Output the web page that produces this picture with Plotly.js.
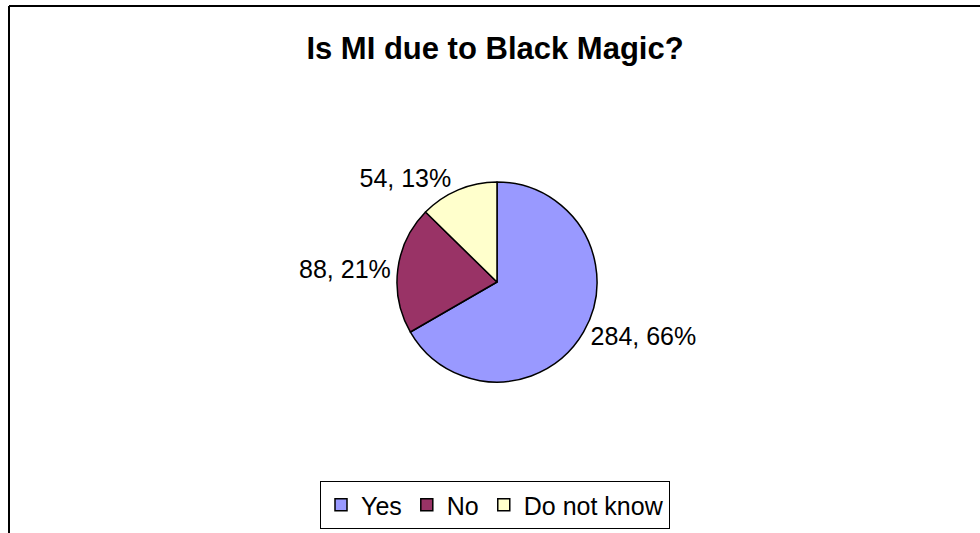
<!DOCTYPE html>
<html>
<head>
<meta charset="utf-8">
<script src="https://cdn.plot.ly/plotly-3.0.1.min.js"></script>
<style>html,body{margin:0;padding:0;background:#fff;}#chart{width:980px;height:533px;}</style>
</head>
<body>
<div id="chart"></div>
<script>
const categories = ["Yes", "No", "Do not know"];
const counts = [284, 88, 54];
const percents = ["66%", "21%", "13%"];
const colors = ["#9999FF", "#993366", "#FFFFCC"];
const titleText = "Is MI due to Black Magic?";

const W = 980, H = 533;
const labels = counts.map((c, i) => c + ", " + percents[i]);

const trace = {
  type: "pie",
  labels: categories,
  values: counts,
  text: labels,
  textinfo: "text",
  texttemplate: "%{text}",
  textposition: "outside",
  sort: false,
  direction: "clockwise",
  rotation: 0,
  automargin: false,
  hoverinfo: "none",
  marker: { colors: colors, line: { color: "#000000", width: 1.5 } },
  outsidetextfont: { family: "Liberation Sans, Arial, sans-serif", size: 25, color: "#000000" },
  domain: { x: [397 / W, 597 / W], y: [(H - 382) / H, (H - 182) / H] }
};

const layout = {
  width: W, height: H,
  margin: { l: 0, r: 0, t: 0, b: 0 },
  paper_bgcolor: "#ffffff",
  plot_bgcolor: "#ffffff",
  font: { family: "Liberation Sans, Arial, sans-serif", color: "#000000" },
  title: {
    text: "<b>" + titleText + "</b>",
    x: 495 / W, xanchor: "center",
    y: 1 - 48 / H, yanchor: "middle",
    font: { family: "Liberation Sans, Arial, sans-serif", size: 31, color: "#000000" }
  },
  showlegend: true,
  legend: {
    orientation: "h",
    x: 495 / W, xanchor: "center",
    y: 1 - 481 / H, yanchor: "top",
    bordercolor: "#000000", borderwidth: 1,
    bgcolor: "#ffffff",
    font: { family: "Liberation Sans, Arial, sans-serif", size: 25, color: "#000000" },
    traceorder: "normal"
  },
  shapes: [
    { type: "line", xref: "paper", yref: "paper", x0: 9 / W, x1: 1.01, y0: 1 - 6 / H, y1: 1 - 6 / H, line: { color: "#000000", width: 2 } },
    { type: "line", xref: "paper", yref: "paper", x0: 9 / W, x1: 9 / W, y0: 1 - 6 / H, y1: -0.01, line: { color: "#000000", width: 2 } }
  ]
};

Plotly.newPlot("chart", [trace], layout, { staticPlot: true, displayModeBar: false });
</script>
</body>
</html>
